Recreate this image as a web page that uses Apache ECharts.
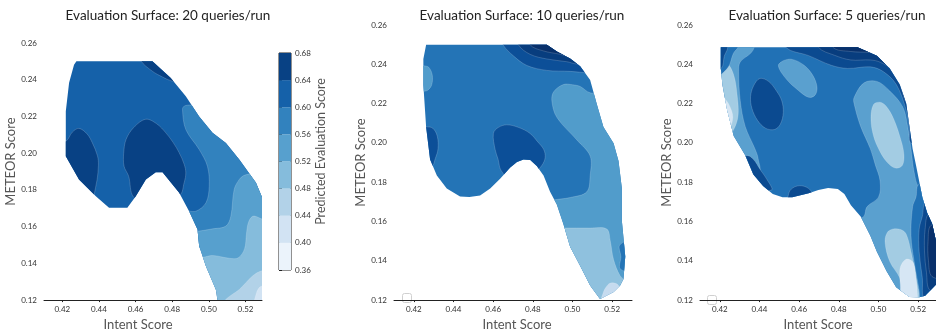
<!DOCTYPE html>
<html>
<head>
<meta charset="utf-8">
<script src="https://cdn.jsdelivr.net/npm/echarts@6/dist/echarts.min.js"></script>
<style>
html, body { margin: 0; background: #fff; }
#chart { width: 936px; height: 336px; }
</style>
</head>
<body>
<div id="chart"></div>
<script>
// tick labels
var xTicks = [0.42, 0.44, 0.46, 0.48, 0.50, 0.52];
var scoreLevels = [0.36, 0.40, 0.44, 0.48, 0.52, 0.56, 0.60, 0.64, 0.68];

// band colours (lowest band first)
var blues20 = ['#ebf3fb', '#d2e3f3', '#b2d2e8', '#85bcdc', '#57a0ce', '#3282be', '#1561a9', '#084184'];
var blues10 = ['#c6dbef', '#8fc1de', '#519ccb', '#2474b6', '#0c4f98', '#083d7e', '#08306b'];
var blues5 = ['#d6e6f4', '#a3cce3', '#5aa0cf', '#2171b5', '#0b4a90', '#083d7e', '#08306b'];

// ---- 20 queries/run : fitted region and contour bands [band, [[intent, meteor], ...]]
var outline20 = [[0.4277,0.2500],[0.4692,0.2500],[0.4792,0.2410],[0.4874,0.2310],[0.4947,0.2200],[0.5020,0.2111],[0.5093,0.2056],[0.5166,0.1966],[0.5257,0.1839],[0.5290,0.1760],[0.5290,0.1200],[0.5047,0.1200],[0.5038,0.1258],[0.4984,0.1385],[0.4947,0.1494],[0.4938,0.1585],[0.4892,0.1684],[0.4838,0.1784],[0.4747,0.1896],[0.4710,0.1896],[0.4656,0.1857],[0.4601,0.1766],[0.4555,0.1703],[0.4455,0.1703],[0.4383,0.1766],[0.4291,0.1857],[0.4219,0.1983],[0.4219,0.2228],[0.4237,0.2383],[0.4264,0.2482]];
var base20 = 6;
var bands20 = [
  [7, [[0.4100,0.2030],[0.4219,0.2065],[0.4255,0.2115],[0.4291,0.2135],[0.4335,0.2105],[0.4364,0.2056],[0.4392,0.1985],[0.4397,0.1935],[0.4390,0.1857],[0.4373,0.1770],[0.4360,0.1650],[0.4100,0.1650]]],
  [7, [[0.4535,0.2000],[0.4548,0.2075],[0.4590,0.2140],[0.4656,0.2185],[0.4715,0.2160],[0.4765,0.2111],[0.4805,0.2058],[0.4838,0.2002],[0.4865,0.1940],[0.4874,0.1893],[0.4865,0.1840],[0.4840,0.1770],[0.4700,0.1720],[0.4590,0.1760],[0.4562,0.1875],[0.4537,0.1929]]],
  [7, [[0.4600,0.2600],[0.4628,0.2505],[0.4692,0.2446],[0.4747,0.2415],[0.4792,0.2395],[0.4860,0.2385],[0.4900,0.2600]]],
  [5, [[0.4856,0.2238],[0.4865,0.2256],[0.4902,0.2262],[0.4960,0.2250],[0.5400,0.2000],[0.5400,0.1500],[0.4860,0.1500],[0.4860,0.1680],[0.4929,0.1684],[0.4984,0.1730],[0.5002,0.1820],[0.4992,0.1929],[0.4947,0.2020],[0.4874,0.2129]]],
  [4, [[0.5166,0.1857],[0.5190,0.1878],[0.5220,0.1886],[0.5257,0.1893],[0.5400,0.1900],[0.5400,0.1300],[0.4850,0.1300],[0.4850,0.1572],[0.4938,0.1575],[0.5020,0.1588],[0.5093,0.1603],[0.5120,0.1657],[0.5138,0.1802]]],
  [3, [[0.4880,0.1435],[0.4965,0.1433],[0.5020,0.1443],[0.5111,0.1428],[0.5160,0.1430],[0.5195,0.1480],[0.5205,0.1560],[0.5215,0.1620],[0.5238,0.1656],[0.5270,0.1650],[0.5350,0.1600],[0.5350,0.1100],[0.4880,0.1100]]],
  [2, [[0.5060,0.1150],[0.5093,0.1204],[0.5166,0.1258],[0.5238,0.1331],[0.5284,0.1358],[0.5350,0.1370],[0.5350,0.1100]]],
  [1, [[0.5250,0.1150],[0.5260,0.1240],[0.5285,0.1275],[0.5350,0.1280],[0.5350,0.1150]]]
];

// ---- 10 queries/run
var outline10 = [[0.4262,0.2500],[0.4871,0.2500],[0.4921,0.2465],[0.4988,0.2430],[0.5039,0.2390],[0.5089,0.2320],[0.5123,0.2196],[0.5156,0.2081],[0.5207,0.1998],[0.5232,0.1908],[0.5249,0.1768],[0.5249,0.1603],[0.5266,0.1422],[0.5257,0.1307],[0.5240,0.1274],[0.5207,0.1241],[0.5139,0.1205],[0.5089,0.1274],[0.5039,0.1373],[0.4988,0.1472],[0.4954,0.1587],[0.4921,0.1686],[0.4887,0.1751],[0.4854,0.1834],[0.4820,0.1883],[0.4787,0.1913],[0.4753,0.1915],[0.4720,0.1903],[0.4686,0.1875],[0.4635,0.1818],[0.4585,0.1768],[0.4534,0.1732],[0.4480,0.1725],[0.4433,0.1727],[0.4366,0.1768],[0.4316,0.1834],[0.4282,0.1916],[0.4262,0.2081],[0.4248,0.2295],[0.4248,0.2427]];
var base10 = 3;
var bands10 = [
  [2, [[0.4200,0.2420],[0.4248,0.2394],[0.4275,0.2385],[0.4293,0.2345],[0.4290,0.2295],[0.4270,0.2268],[0.4248,0.2262],[0.4200,0.2250]]],
  [2, [[0.4896,0.2213],[0.4905,0.2260],[0.4954,0.2297],[0.5000,0.2296],[0.5039,0.2287],[0.5089,0.2255],[0.5400,0.2200],[0.5400,0.1100],[0.4850,0.1100],[0.4850,0.1700],[0.4904,0.1710],[0.4988,0.1722],[0.5072,0.1751],[0.5089,0.1834],[0.5089,0.1933],[0.5022,0.2015],[0.4921,0.2130]]],
  [1, [[0.4880,0.1570],[0.4955,0.1567],[0.5089,0.1567],[0.5173,0.1562],[0.5190,0.1504],[0.5207,0.1406],[0.5240,0.1324],[0.5280,0.1280],[0.5280,0.1100],[0.4880,0.1100]]],
  [0, [[0.5140,0.1150],[0.5156,0.1241],[0.5180,0.1280],[0.5198,0.1288],[0.5220,0.1284],[0.5235,0.1268],[0.5260,0.1150]]],
  [3, [[0.5238,0.1480],[0.5244,0.1420],[0.5240,0.1360],[0.5300,0.1350],[0.5300,0.1500]]],
  [4, [[0.4200,0.2085],[0.4262,0.2082],[0.4295,0.2075],[0.4318,0.2035],[0.4322,0.1970],[0.4308,0.1920],[0.4290,0.1880],[0.4200,0.1880]]],
  [4, [[0.4601,0.2048],[0.4625,0.2078],[0.4669,0.2092],[0.4730,0.2078],[0.4786,0.2048],[0.4825,0.2005],[0.4855,0.1966],[0.4862,0.1925],[0.4845,0.1885],[0.4810,0.1850],[0.4700,0.1800],[0.4640,0.1860],[0.4625,0.1916],[0.4610,0.1966]]],
  [4, [[0.4600,0.2600],[0.4652,0.2496],[0.4702,0.2443],[0.4770,0.2394],[0.4871,0.2369],[0.4988,0.2364],[0.5055,0.2358],[0.5200,0.2350],[0.5200,0.2600]]],
  [5, [[0.4700,0.2600],[0.4727,0.2500],[0.4786,0.2451],[0.4871,0.2427],[0.4972,0.2413],[0.5020,0.2402],[0.5200,0.2400],[0.5200,0.2600]]],
  [6, [[0.4760,0.2600],[0.4786,0.2500],[0.4854,0.2468],[0.4938,0.2451],[0.4985,0.2440],[0.5200,0.2430],[0.5200,0.2600]]]
];

// ---- 5 queries/run
var outline5 = [[0.4205,0.2487],[0.4894,0.2487],[0.4992,0.2444],[0.5057,0.2379],[0.5107,0.2297],[0.5140,0.2199],[0.5156,0.2084],[0.5172,0.1970],[0.5189,0.1888],[0.5205,0.1806],[0.5221,0.1724],[0.5246,0.1642],[0.5270,0.1590],[0.5290,0.1500],[0.5290,0.1280],[0.5235,0.1222],[0.5205,0.1214],[0.5156,0.1216],[0.5089,0.1265],[0.5041,0.1347],[0.4992,0.1446],[0.4959,0.1528],[0.4910,0.1626],[0.4861,0.1683],[0.4828,0.1740],[0.4795,0.1765],[0.4746,0.1770],[0.4697,0.1760],[0.4648,0.1744],[0.4565,0.1724],[0.4516,0.1724],[0.4467,0.1740],[0.4418,0.1781],[0.4369,0.1839],[0.4328,0.1937],[0.4270,0.2035],[0.4237,0.2166],[0.4213,0.2297],[0.4205,0.2379]];
var base5 = 3;
var bands5 = [
  [2, [[0.4150,0.2600],[0.4369,0.2495],[0.4360,0.2461],[0.4303,0.2412],[0.4295,0.2363],[0.4303,0.2215],[0.4328,0.2084],[0.4377,0.1970],[0.4393,0.1921],[0.4395,0.1850],[0.4150,0.1850]]],
  [1, [[0.4150,0.2450],[0.4237,0.2405],[0.4270,0.2345],[0.4287,0.2245],[0.4292,0.2140],[0.4270,0.2068],[0.4237,0.2030],[0.4150,0.2000]]],
  [0, [[0.4150,0.2280],[0.4225,0.2225],[0.4255,0.2175],[0.4265,0.2125],[0.4245,0.2075],[0.4150,0.2050]]],
  [3, [[0.4150,0.2600],[0.4290,0.2495],[0.4268,0.2455],[0.4238,0.2380],[0.4150,0.2320]]],
  [4, [[0.4150,0.2600],[0.4238,0.2495],[0.4222,0.2440],[0.4208,0.2380],[0.4150,0.2360]]],
  [4, [[0.4300,0.1920],[0.4340,0.1935],[0.4368,0.1918],[0.4405,0.1862],[0.4440,0.1810],[0.4460,0.1760],[0.4300,0.1760]]],
  [4, [[0.4402,0.2328],[0.4447,0.2312],[0.4485,0.2265],[0.4512,0.2215],[0.4520,0.2155],[0.4505,0.2095],[0.4475,0.2068],[0.4430,0.2075],[0.4390,0.2115],[0.4362,0.2175],[0.4355,0.2235],[0.4370,0.2290]]],
  [2, [[0.4495,0.2392],[0.4520,0.2418],[0.4565,0.2425],[0.4625,0.2395],[0.4668,0.2345],[0.4690,0.2285],[0.4680,0.2243],[0.4648,0.2232],[0.4595,0.2268],[0.4535,0.2325]]],
  [2, [[0.4926,0.2305],[0.4992,0.2313],[0.5057,0.2264],[0.5123,0.2182],[0.5147,0.2084],[0.5164,0.1970],[0.5180,0.1850],[0.5205,0.1773],[0.5300,0.1700],[0.5300,0.1100],[0.4880,0.1100],[0.4880,0.1600],[0.4926,0.1626],[0.4942,0.1675],[0.5000,0.1724],[0.5008,0.1806],[0.4984,0.1888],[0.4959,0.1970],[0.4910,0.2084],[0.4877,0.2199],[0.4877,0.2231]]],
  [1, [[0.4975,0.2195],[0.5008,0.2207],[0.5040,0.2185],[0.5075,0.2125],[0.5107,0.2035],[0.5128,0.1945],[0.5120,0.1885],[0.5085,0.1872],[0.5045,0.1900],[0.5008,0.1955],[0.4975,0.2035],[0.4962,0.2125]]],
  [1, [[0.5033,0.1495],[0.5045,0.1545],[0.5074,0.1562],[0.5115,0.1558],[0.5140,0.1535],[0.5164,0.1446],[0.5189,0.1314],[0.5205,0.1180],[0.5150,0.1180],[0.5107,0.1314],[0.5057,0.1396]]],
  [0, [[0.5107,0.1347],[0.5115,0.1380],[0.5139,0.1408],[0.5165,0.1402],[0.5180,0.1380],[0.5189,0.1314],[0.5195,0.1250],[0.5190,0.1170],[0.5120,0.1170],[0.5110,0.1280]]],
  [3, [[0.5205,0.1790],[0.5189,0.1724],[0.5172,0.1675],[0.5164,0.1528],[0.5180,0.1396],[0.5205,0.1250],[0.5220,0.1150],[0.5350,0.1150],[0.5350,0.1800]]],
  [4, [[0.5240,0.1700],[0.5221,0.1626],[0.5205,0.1560],[0.5205,0.1446],[0.5221,0.1314],[0.5235,0.1200],[0.5350,0.1200],[0.5350,0.1700]]],
  [5, [[0.5255,0.1640],[0.5235,0.1560],[0.5232,0.1450],[0.5242,0.1340],[0.5260,0.1250],[0.5350,0.1250],[0.5350,0.1640]]],
  [6, [[0.5265,0.1580],[0.5250,0.1500],[0.5252,0.1400],[0.5270,0.1320],[0.5350,0.1320],[0.5350,0.1580]]],
  [4, [[0.4500,0.2600],[0.4533,0.2487],[0.4648,0.2444],[0.4762,0.2395],[0.4844,0.2379],[0.4959,0.2387],[0.5024,0.2363],[0.5090,0.2297],[0.5140,0.2166],[0.5156,0.2068],[0.5165,0.2000],[0.5300,0.2000],[0.5300,0.2600]]],
  [5, [[0.4660,0.2600],[0.4697,0.2487],[0.4778,0.2446],[0.4861,0.2422],[0.4959,0.2422],[0.5010,0.2410],[0.5070,0.2370],[0.5110,0.2295],[0.5150,0.2200],[0.5300,0.2200],[0.5300,0.2600]]],
  [6, [[0.4740,0.2600],[0.4770,0.2487],[0.4861,0.2465],[0.4959,0.2460],[0.5010,0.2450],[0.5060,0.2400],[0.5300,0.2400],[0.5300,0.2600]]],
  [4, [[0.4549,0.1700],[0.4550,0.1750],[0.4575,0.1775],[0.4610,0.1782],[0.4645,0.1770],[0.4665,0.1745],[0.4670,0.1700]]]
];

var FONT = 'Lato';

function fmt(v) { return v.toFixed(2); }

function surface(k, outline, base, bands, palette) {
    var items = [[outline[0][0], outline[0][1], -1]];
    bands.forEach(function (b, i) {
        items.push([b[1][0][0], b[1][0][1], i]);
    });
    return {
        type: 'custom',
        xAxisIndex: k,
        yAxisIndex: k,
        silent: true,
        clip: true,
        animation: false,
        data: items,
        renderItem: function (params, api) {
            var idx = api.value(2);
            var edge = outline.map(function (p) { return api.coord(p); });
            if (idx < 0) {
                return { type: 'polygon', shape: { points: edge }, style: { fill: palette[base] } };
            }
            var b = bands[idx];
            return {
                type: 'polygon',
                shape: { points: b[1].map(function (p) { return api.coord(p); }), smooth: 0.35 },
                style: { fill: palette[b[0]], stroke: 'rgba(255,255,255,0.3)', lineWidth: 0.6 },
                clipPath: { type: 'polygon', shape: { points: edge } }
            };
        }
    };
}

function xAxisFor(k, max, namePad) {
    return {
        gridIndex: k, type: 'value', min: 0.41, max: max,
        axisLine: { show: true, onZero: false, lineStyle: { color: '#222', width: 1 } },
        axisTick: { show: true, length: 2, customValues: xTicks, lineStyle: { color: '#222' } },
        splitLine: { show: false },
        axisLabel: { customValues: xTicks, formatter: fmt, fontSize: 8, color: '#333', margin: 5, fontFamily: FONT },
        name: 'Intent Score', nameLocation: 'middle', nameGap: 13,
        nameTextStyle: { fontSize: 13, color: '#555', fontFamily: FONT, padding: namePad }
    };
}

function yAxisFor(k, gap, namePad) {
    return {
        gridIndex: k, type: 'value', min: 0.12, max: 0.26, interval: 0.02,
        axisLine: { show: false }, axisTick: { show: false }, splitLine: { show: false },
        axisLabel: { formatter: fmt, fontSize: 8, color: '#333', margin: 7, fontFamily: FONT },
        name: 'METEOR Score', nameLocation: 'middle', nameGap: gap, nameRotate: 90,
        nameTextStyle: { fontSize: 13, color: '#555', fontFamily: FONT, padding: namePad }
    };
}

var chart = echarts.init(document.getElementById('chart'), null, { renderer: 'canvas' });

var option = {
    animation: false,
    backgroundColor: '#fff',
    title: [
        { text: 'Evaluation Surface: 20 queries/run', left: 163, top: 4, textAlign: 'center',
          textStyle: { fontSize: 13.5, fontWeight: 'normal', color: '#222', fontFamily: FONT } },
        { text: 'Evaluation Surface: 10 queries/run', left: 517, top: 4, textAlign: 'center',
          textStyle: { fontSize: 13.5, fontWeight: 'normal', color: '#222', fontFamily: FONT } },
        { text: 'Evaluation Surface: 5 queries/run', left: 822, top: 4, textAlign: 'center',
          textStyle: { fontSize: 13.5, fontWeight: 'normal', color: '#222', fontFamily: FONT } }
    ],
    grid: [
        { left: 44, top: 43, width: 218, height: 258 },
        { left: 394, top: 25, width: 238, height: 283 },
        { left: 700, top: 25, width: 242, height: 285 },
        { left: 279, top: 53, width: 12, height: 217, show: true, borderColor: '#222', borderWidth: 1, backgroundColor: 'transparent' }
    ],
    xAxis: [
        xAxisFor(0, 0.529, [0, 30, 0, 0]),
        xAxisFor(1, 0.53, [0, 0, 0, 8]),
        xAxisFor(2, 0.529, [0, 0, 0, 0]),
        { gridIndex: 3, type: 'value', min: 0, max: 1, show: false }
    ],
    yAxis: [
        yAxisFor(0, 21, [0, 0, 0, 20]),
        yAxisFor(1, 15, [0, 0, 0, 0]),
        yAxisFor(2, 17, [0, 0, 0, 0]),
        {
            gridIndex: 3, type: 'value', position: 'right', min: 0.36, max: 0.68,
            axisLine: { show: false },
            axisTick: { show: true, length: 3, customValues: scoreLevels, lineStyle: { color: '#222' } },
            splitLine: { show: false },
            axisLabel: { customValues: scoreLevels, formatter: fmt, fontSize: 8, color: '#333', margin: 4, fontFamily: FONT },
            name: 'Predicted Evaluation Score', nameLocation: 'middle', nameGap: 10, nameRotate: 90,
            nameTextStyle: { fontSize: 12.5, color: '#555', fontFamily: FONT, padding: [0, 0, 0, 20] }
        }
    ],
    graphic: [
        { type: 'rect', left: 402, top: 293, shape: { width: 9, height: 9, r: 2 }, style: { fill: '#fff', stroke: '#d0d0d0', lineWidth: 1 } },
        { type: 'rect', left: 707, top: 295, shape: { width: 9, height: 9, r: 2 }, style: { fill: '#fff', stroke: '#d0d0d0', lineWidth: 1 } }
    ],
    series: [
        surface(0, outline20, base20, bands20, blues20),
        surface(1, outline10, base10, bands10, blues10),
        surface(2, outline5, base5, bands5, blues5),
        {
            type: 'custom', xAxisIndex: 3, yAxisIndex: 3, silent: true, animation: false,
            data: scoreLevels.slice(0, -1).map(function (v, i) { return [0, v, i]; }),
            renderItem: function (params, api) {
                var i = api.value(2);
                var p0 = api.coord([0, scoreLevels[i + 1]]);
                var p1 = api.coord([1, scoreLevels[i]]);
                return { type: 'rect', shape: { x: p0[0], y: p0[1], width: p1[0] - p0[0], height: p1[1] - p0[1] },
                         style: { fill: blues20[i] } };
            }
        }
    ]
};

chart.setOption(option);
</script>
</body>
</html>
